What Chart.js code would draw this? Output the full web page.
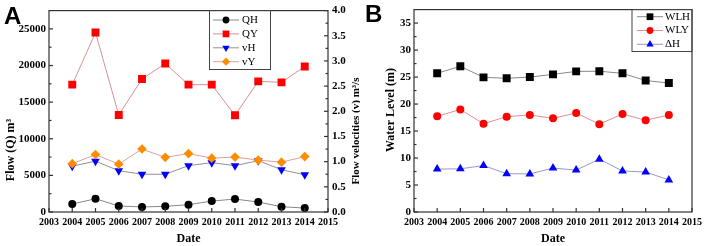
<!DOCTYPE html>
<html><head><meta charset="utf-8">
<script src="https://cdn.jsdelivr.net/npm/chart.js@4.4.0/dist/chart.umd.min.js"></script>
<style>
html,body{margin:0;padding:0;background:#fff;width:706px;height:246px;overflow:hidden}
#ca{position:absolute;left:0;top:0}
#cb{position:absolute;left:360px;top:0}
</style></head><body>
<canvas id="ca" width="360" height="246"></canvas>
<canvas id="cb" width="346" height="246"></canvas>
<script>
// ---- data ----
const years = [2004,2005,2006,2007,2008,2009,2010,2011,2012,2013,2014];
const xTicks = [2003,2004,2005,2006,2007,2008,2009,2010,2011,2012,2013,2014,2015];
const QH = [1090,1810,820,690,770,1000,1490,1770,1360,720,540];
const QY = [17390,24500,13250,18150,20270,17390,17390,13200,17840,17700,19870];
const vH = [0.91,1.01,0.82,0.75,0.75,0.92,0.98,0.92,1.02,0.84,0.74];
const vY = [0.96,1.14,0.95,1.25,1.085,1.16,1.07,1.09,1.03,0.99,1.10];
const WLH = [25.7,27.0,24.95,24.77,25.0,25.5,26.05,26.08,25.7,24.35,23.9];
const WLY = [17.73,19.0,16.35,17.67,17.97,17.36,18.34,16.28,18.15,17.0,17.97];
const dH = [7.95,8.0,8.6,7.1,7.05,8.14,7.77,9.78,7.6,7.4,5.95];
const flowTicks = [0,5000,10000,15000,20000,25000];
const velTicks = [0,0.5,1.0,1.5,2.0,2.5,3.0,3.5,4.0];
const wlTicks = [0,5,10,15,20,25,30,35];

const serif = '"Liberation Serif","Times New Roman",serif';
const pts = arr => years.map((y,i)=>({x:y, y:arr[i]}));

const framePlugin = {
  id: 'frame',
  afterDraw(chart, args, o) {
    const ctx = chart.ctx, a = chart.chartArea;
    ctx.save();
    ctx.strokeStyle = '#333'; ctx.lineWidth = 1.2;
    ctx.strokeRect(a.left, a.top, a.right - a.left, a.bottom - a.top);
    (o.axes || []).forEach(ax => {
      const s = chart.scales[ax.id];
      const major = s.ticks.map(t => t.value);
      const minor = [];
      if (ax.minor) for (let i=0;i<major.length-1;i++) minor.push((major[i]+major[i+1])/2);
      const draw = (v, len) => {
        const p = s.getPixelForValue(v);
        ctx.beginPath();
        if (s.position === 'bottom') { ctx.moveTo(p, a.bottom); ctx.lineTo(p, a.bottom - len); }
        else if (s.position === 'left') { ctx.moveTo(a.left, p); ctx.lineTo(a.left + len, p); }
        else { ctx.moveTo(a.right, p); ctx.lineTo(a.right - len, p); }
        ctx.stroke();
      };
      major.forEach(v => draw(v, 4)); minor.forEach(v => draw(v, 2.5));
    });
    ctx.fillStyle = '#000';
    (o.titles || []).forEach(t => {
      ctx.save();
      ctx.translate(t.x, t.y); ctx.rotate(-Math.PI / 2);
      ctx.font = 'bold ' + t.size + 'px ' + serif;
      ctx.textAlign = 'center'; ctx.textBaseline = 'middle';
      ctx.fillText(t.text, 0, 0);
      ctx.restore();
    });
    ctx.font = 'bold 24px "Liberation Sans", Arial, sans-serif';
    ctx.textBaseline = 'alphabetic'; ctx.textAlign = 'left';
    ctx.fillText(o.letter, o.lx, o.ly);
    const L = o.legend;
    ctx.lineWidth = 1; ctx.strokeStyle = '#444';
    ctx.strokeRect(L.x, L.y, L.w, L.h);
    chart.data.datasets.forEach((d, i) => {
      const y = L.y0 + i * L.dy;
      ctx.strokeStyle = d.borderColor; ctx.lineWidth = 1;
      ctx.beginPath(); ctx.moveTo(L.lx0, y); ctx.lineTo(L.lx1, y); ctx.stroke();
      ctx.fillStyle = d.pointBackgroundColor; ctx.strokeStyle = d.pointBorderColor;
      Chart.helpers.drawPoint(ctx, {pointStyle: d.pointStyle, rotation: d.pointRotation || 0,
        radius: d.pointRadius * 0.85, borderWidth: 0}, (L.lx0 + L.lx1) / 2, y);
      ctx.fillStyle = '#000'; ctx.font = '11px ' + serif; ctx.textBaseline = 'middle';
      ctx.fillText(d.label, L.tx, y);
    });
    ctx.restore();
  }
};

function ds(label, data, line, mark, style, r, rot, axis, order) {
  return {label, data, borderColor: line, borderWidth: 1, pointBackgroundColor: mark,
    pointBorderColor: mark, pointBorderWidth: 0, pointStyle: style, pointRadius: r,
    pointRotation: rot || 0, yAxisID: axis, order, tension: 0, fill: false};
}

function xScale() {
  return {type:'linear', position:'bottom', min:2003, max:2015,
    afterBuildTicks: s => { s.ticks = xTicks.map(v => ({value:v})); },
    afterFit: s => { s.height = 34; },
    ticks:{autoSkip:false, maxRotation:0, padding:4, color:'#000',
      font:{family:serif, weight:'bold', size:10}, callback: v => String(v)},
    grid:{display:false, drawTicks:false}, border:{display:false},
    title:{display:true, text:'Date', color:'#000', padding:{top:0,bottom:0},
      font:{family:serif, weight:'bold', size:12}}};
}
function yScale(pos, min, max, vals, fmt, width) {
  return {type:'linear', position:pos, min, max,
    afterBuildTicks: s => { s.ticks = vals.map(v => ({value:v})); },
    afterFit: s => { s.width = width; },
    ticks:{padding: pos === 'left' ? 3 : 4, color:'#000',
      font:{family:serif, weight:'bold', size:11}, callback: fmt},
    grid:{display:false, drawTicks:false}, border:{display:false},
    title:{display:false}};
}

Chart.defaults.animation = false;

new Chart(document.getElementById('ca'), {
  type:'line',
  data:{datasets:[
    ds('QH', pts(QH), '#888888', '#000000', 'circle', 4, 0, 'yL', 3),
    ds('QY', pts(QY), '#d79090', '#ff0000', 'rect', 5.6, 0, 'yL', 2),
    ds('vH', pts(vH), '#909098', '#0000ff', 'triangle', 5, 180, 'yR', 1),
    ds('vY', pts(vY), '#dba0a0', '#ff8c00', 'rectRot', 4.8, 0, 'yR', 0)
  ]},
  options:{responsive:false, devicePixelRatio:1,
    layout:{padding:{top:7, left:0, right:0, bottom:0}},
    plugins:{legend:{display:false}, tooltip:{enabled:false},
      frame:{axes:[{id:'x'},{id:'yL',minor:true},{id:'yR',minor:true}], letter:'A', lx:4, ly:24,
        titles:[{text:'Flow (Q) m\u00B3', x:11, y:150, size:12},
                {text:'Flow velocities (v) m\u00B3/s', x:356, y:131, size:11}],
        legend:{x:209.5, y:10.5, w:61, h:59, y0:20, dy:13.9, lx0:213, lx1:239, tx:242}}},
    scales:{
      x: xScale(),
      yL: yScale('left', 0, 27500, flowTicks, v => String(v), 49),
      yR: yScale('right', 0, 4, velTicks, v => v.toFixed(1), 32)
    }},
  plugins:[framePlugin]
});

new Chart(document.getElementById('cb'), {
  type:'line',
  data:{datasets:[
    ds('WLH', pts(WLH), '#888888', '#000000', 'rect', 5.6, 0, 'y', 2),
    ds('WLY', pts(WLY), '#e09090', '#ff0000', 'circle', 4, 0, 'y', 1),
    ds('\u0394H', pts(dH), '#9898d0', '#0000ff', 'triangle', 5, 0, 'y', 0)
  ]},
  options:{responsive:false, devicePixelRatio:1,
    layout:{padding:{top:7, left:0, right:12, bottom:0}},
    plugins:{legend:{display:false}, tooltip:{enabled:false},
      frame:{axes:[{id:'x'},{id:'y',minor:true}], letter:'B', lx:5, ly:22,
        titles:[{text:'Water Level (m)', x:31, y:110, size:12}],
        legend:{x:272, y:9.5, w:60, h:42, y0:16.7, dy:13.8, lx0:277, lx1:303, tx:305}}},
    scales:{
      x: xScale(),
      y: yScale('left', 0, 37.5, wlTicks, v => String(v), 54)
    }},
  plugins:[framePlugin]
});
</script>
</body></html>
